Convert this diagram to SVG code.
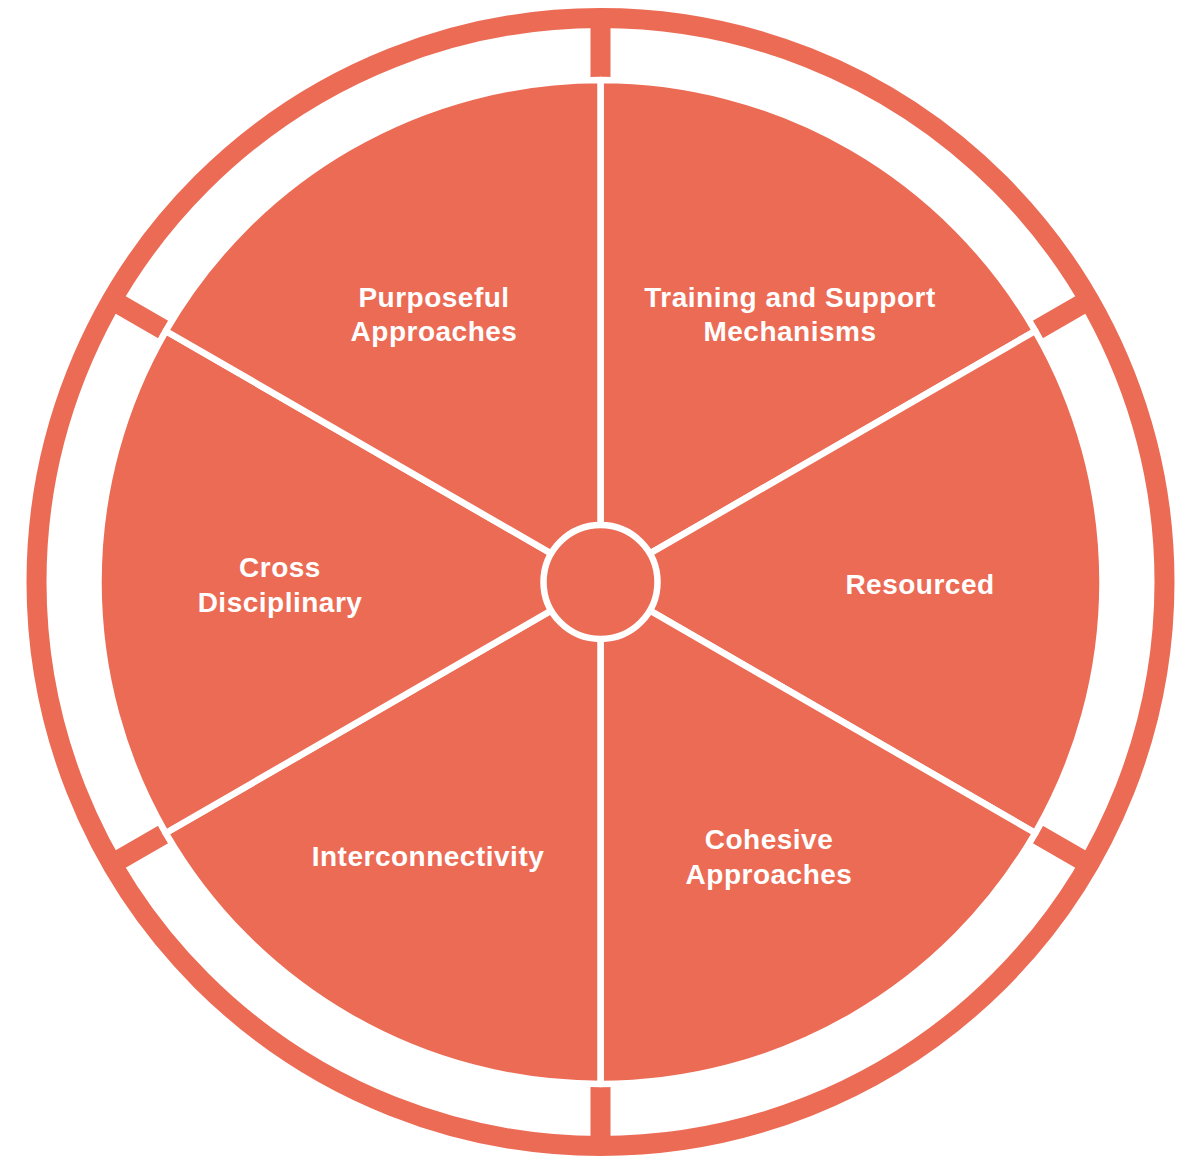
<svg xmlns="http://www.w3.org/2000/svg" width="1195" height="1159" viewBox="0 0 1195 1159">
<style>
.w{fill:#EC6B55;stroke:#FFFFFF;stroke-width:6.5;stroke-linejoin:round}
.t{font-family:"Liberation Sans",Arial,sans-serif;font-weight:bold;font-size:28px;letter-spacing:0.5px;fill:#FFFFFF;text-anchor:middle}
.sep{fill:#EC6B55}
</style>
<rect width="1195" height="1159" fill="#FFFFFF"/>
<g id="ring">
<circle cx="600.5" cy="582" r="564" fill="none" stroke="#EC6B55" stroke-width="20"/>
<g transform="translate(600.5,582)">
<rect class="sep" x="-10" y="-560" width="20" height="55"/>
<rect class="sep" x="-10" y="-560" width="20" height="55" transform="rotate(60)"/>
<rect class="sep" x="-10" y="-560" width="20" height="55" transform="rotate(120)"/>
<rect class="sep" x="-10" y="-560" width="20" height="55" transform="rotate(180)"/>
<rect class="sep" x="-10" y="-560" width="20" height="55" transform="rotate(240)"/>
<rect class="sep" x="-10" y="-560" width="20" height="55" transform="rotate(300)"/>
</g>
</g>
<g id="node-training">
<path class="w" d="M600.5,582 L600.5,80 A502,502 0 0 1 1035.25,331 Z"/>
<text class="t" x="790" y="306.5">Training and Support</text>
<text class="t" x="790" y="341">Mechanisms</text>
</g>
<g id="node-resourced">
<path class="w" d="M600.5,582 L1035.25,331 A502,502 0 0 1 1035.25,833 Z"/>
<text class="t" x="920" y="593.5">Resourced</text>
</g>
<g id="node-cohesive">
<path class="w" d="M600.5,582 L1035.25,833 A502,502 0 0 1 600.5,1084 Z"/>
<text class="t" x="769" y="849">Cohesive</text>
<text class="t" x="769" y="884">Approaches</text>
</g>
<g id="node-interconnectivity">
<path class="w" d="M600.5,582 L600.5,1084 A502,502 0 0 1 165.75,833 Z"/>
<text class="t" x="428" y="866">Interconnectivity</text>
</g>
<g id="node-cross">
<path class="w" d="M600.5,582 L165.75,833 A502,502 0 0 1 165.75,331 Z"/>
<text class="t" x="280" y="577">Cross</text>
<text class="t" x="280" y="612">Disciplinary</text>
</g>
<g id="node-purposeful">
<path class="w" d="M600.5,582 L165.75,331 A502,502 0 0 1 600.5,80 Z"/>
<text class="t" x="434" y="306.5">Purposeful</text>
<text class="t" x="434" y="341">Approaches</text>
</g>
<g id="node-center">
<circle cx="600.5" cy="582" r="57" fill="#EC6B55" stroke="#FFFFFF" stroke-width="6.5"/>
</g>
<g id="connectors"></g>
</svg>
